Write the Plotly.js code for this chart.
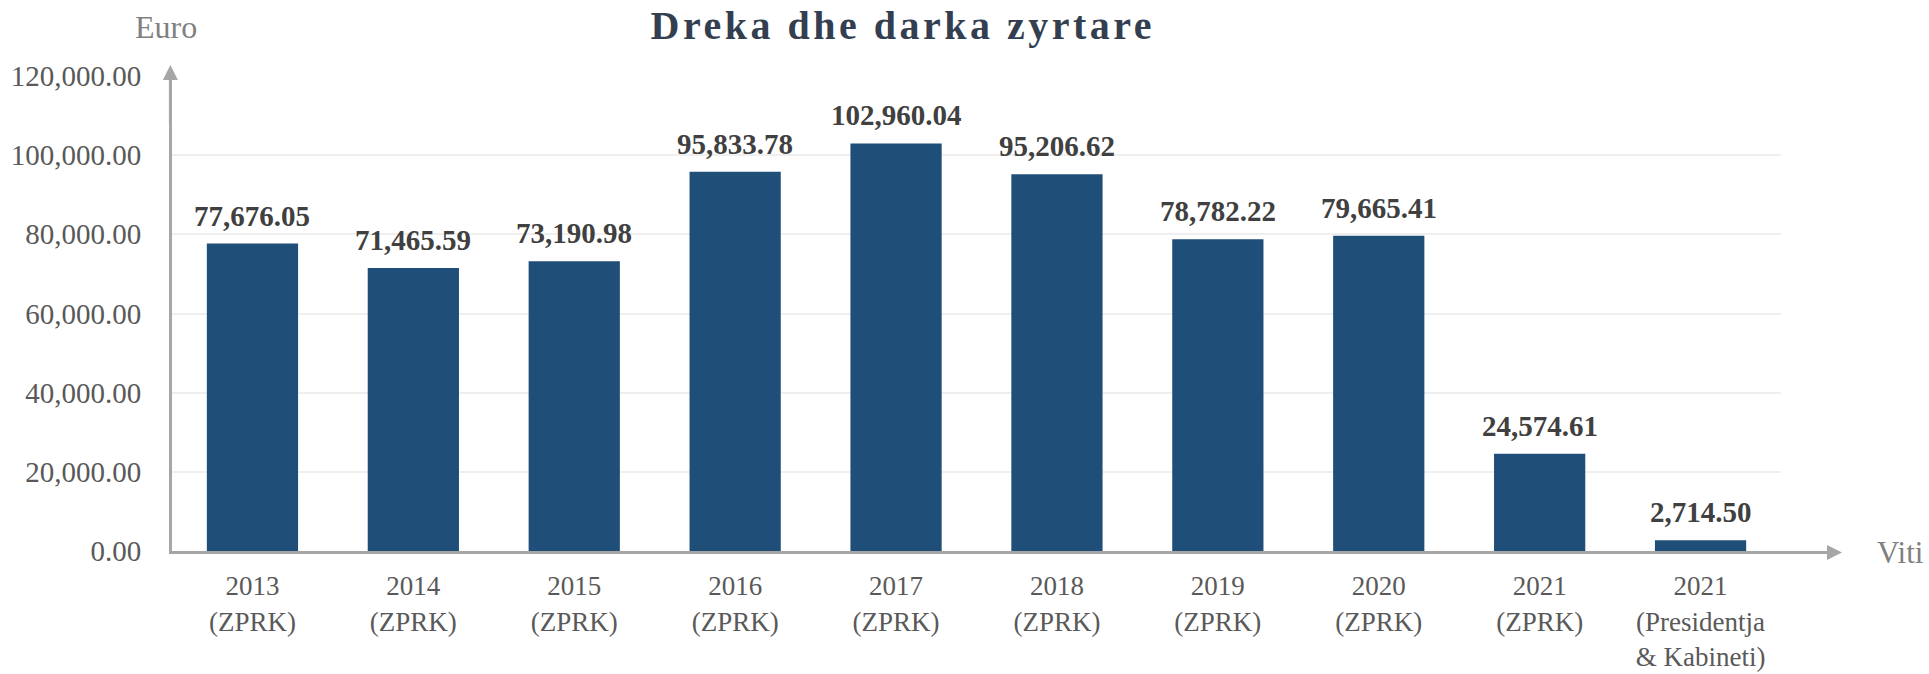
<!DOCTYPE html>
<html>
<head>
<meta charset="utf-8">
<script src="https://cdn.plot.ly/plotly-3.0.1.min.js"></script>
<style>
  html, body { margin: 0; padding: 0; background: #ffffff; }
  #chart { width: 1929px; height: 674px; }
</style>
</head>
<body>
<div id="chart"></div>
<script>
// ---- data ----
const categories = [
  "2013<br>(ZPRK)", "2014<br>(ZPRK)", "2015<br>(ZPRK)", "2016<br>(ZPRK)",
  "2017<br>(ZPRK)", "2018<br>(ZPRK)", "2019<br>(ZPRK)", "2020<br>(ZPRK)",
  "2021<br>(ZPRK)", "2021<br>(Presidentja<br>& Kabineti)"
];
const values = [77676.05, 71465.59, 73190.98, 95833.78, 102960.04,
                95206.62, 78782.22, 79665.41, 24574.61, 2714.50];
const yTickVals = [0, 20000, 40000, 60000, 80000, 100000, 120000];

const titleText = "Dreka dhe darka zyrtare";
const yLabel = "Euro";
const xLabel = "Viti";

// ---- styles ----
const FONT = "Liberation Serif, Times New Roman, serif";
const barColor = "#1F4E79";
const axisColor = "#A6A6A6";
const tickColor = "#595959";
const labelColor = "#404040";
const grayLabel = "#808080";

const xIdx = categories.map((_, i) => i);
const fmt = v => v.toLocaleString("en-US", {minimumFractionDigits: 2, maximumFractionDigits: 2});

const trace = {
  type: "bar",
  x: xIdx,
  y: values,
  marker: { color: barColor },
  hoverinfo: "none",
  showlegend: false
};

const valueAnnotations = values.map((v, i) => ({
  x: i, y: v, xref: "x", yref: "y",
  text: fmt(v),
  showarrow: false,
  yanchor: "bottom",
  yshift: 10,
  font: { family: FONT, size: 29, color: labelColor, weight: "bold" }
}));

const layout = {
  width: 1929,
  height: 674,
  paper_bgcolor: "#ffffff",
  plot_bgcolor: "#ffffff",
  margin: { l: 172, r: 148, t: 76, b: 123 },
  bargap: 0.433,
  title: {
    text: "<b>" + titleText + "</b>",
    font: { family: FONT, size: 40, color: "#333F50" },
    x: 0.468, xref: "container", xanchor: "center",
    y: 1 - 25 / 674, yref: "container", yanchor: "middle"
  },
  xaxis: {
    range: [-0.5, 9.5],
    tickmode: "array",
    tickvals: xIdx,
    ticktext: categories,
    showline: true, linecolor: axisColor, linewidth: 3,
    showgrid: false, zeroline: false,
    ticks: "",
    ticklabelstandoff: 9,
    tickfont: { family: FONT, size: 27, color: tickColor },
    fixedrange: true
  },
  yaxis: {
    range: [0, 120000],
    tickmode: "array",
    tickvals: yTickVals,
    tickformat: ",.2f",
    showline: true, linecolor: axisColor, linewidth: 3,
    showgrid: true, gridcolor: "#EFEFEF", gridwidth: 2,
    zeroline: false,
    ticks: "",
    ticklabelstandoff: 22,
    tickfont: { family: FONT, size: 29, color: tickColor },
    fixedrange: true
  },
  annotations: valueAnnotations.concat([
    // x-axis arrow
    { xref: "paper", yref: "paper", x: 1.0379, y: -0.003,
      ax: -80, ay: 0, axref: "pixel", ayref: "pixel",
      text: "", showarrow: true, arrowhead: 2, arrowsize: 1,
      arrowwidth: 3, arrowcolor: axisColor, standoff: 0 },
    // y-axis arrow
    { xref: "paper", yref: "paper", x: -0.001, y: 1.023,
      ax: 0, ay: 60, axref: "pixel", ayref: "pixel",
      text: "", showarrow: true, arrowhead: 2, arrowsize: 1,
      arrowwidth: 3, arrowcolor: axisColor, standoff: 0 },
    { xref: "paper", yref: "paper", x: 1.074, y: -0.003,
      xanchor: "center", yanchor: "middle", showarrow: false,
      text: xLabel, font: { family: FONT, size: 31, color: grayLabel } },
    { xref: "paper", yref: "paper", x: -0.004, y: 1.103,
      xanchor: "center", yanchor: "middle", showarrow: false,
      text: yLabel, font: { family: FONT, size: 32, color: grayLabel } }
  ])
};

Plotly.newPlot("chart", [trace], layout, { displayModeBar: false, staticPlot: true })
  .then(() => {
    const t = document.querySelector(".gtitle");
    if (t) t.style.letterSpacing = "3.5px";
  });
</script>
</body>
</html>
